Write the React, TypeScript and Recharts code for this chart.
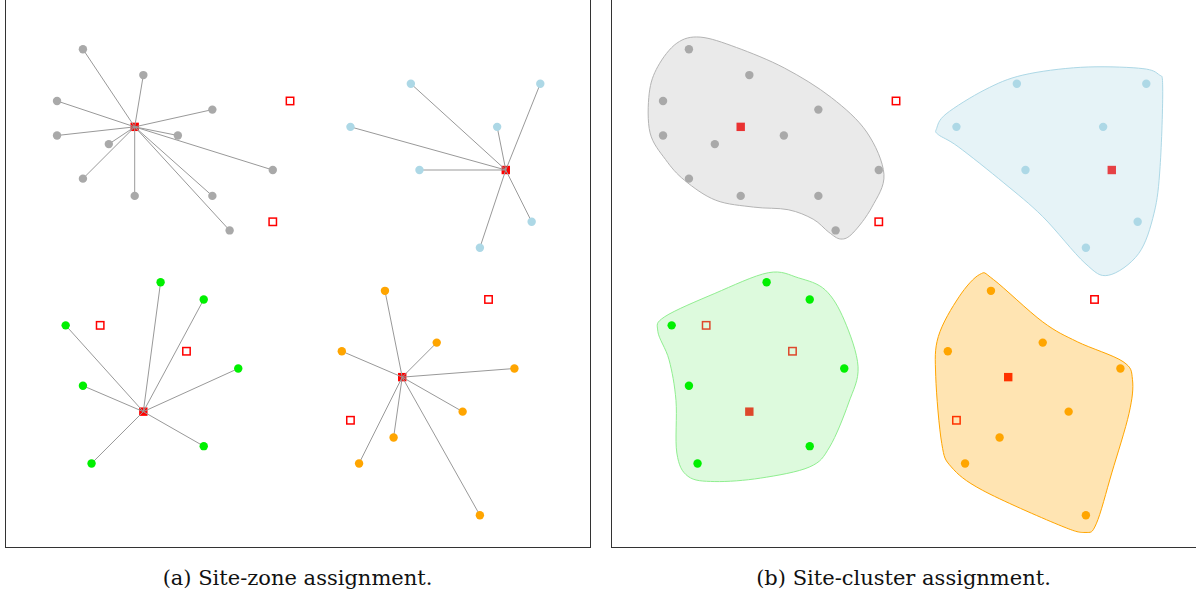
import React from "react";
import { ScatterChart, Scatter, XAxis, YAxis } from "recharts";

type Pt = { x: number; y: number };

// grid coordinates shared by both panels (x to the right, y downward)
const grayCustomers: Pt[] = [
  { x: 9, y: 5 }, { x: 16, y: 8 }, { x: 6, y: 11 }, { x: 24, y: 12 },
  { x: 6, y: 15 }, { x: 20, y: 15 }, { x: 12, y: 16 }, { x: 31, y: 19 },
  { x: 9, y: 20 }, { x: 15, y: 22 }, { x: 24, y: 22 }, { x: 26, y: 26 },
];
const blueCustomers: Pt[] = [
  { x: 47, y: 9 }, { x: 62, y: 9 }, { x: 40, y: 14 }, { x: 57, y: 14 },
  { x: 48, y: 19 }, { x: 61, y: 25 }, { x: 55, y: 28 },
];
const greenCustomers: Pt[] = [
  { x: 18, y: 32 }, { x: 23, y: 34 }, { x: 7, y: 37 }, { x: 27, y: 42 },
  { x: 9, y: 44 }, { x: 23, y: 51 }, { x: 10, y: 53 },
];
const orangeCustomers: Pt[] = [
  { x: 44, y: 33 }, { x: 50, y: 39 }, { x: 39, y: 40 }, { x: 59, y: 42 },
  { x: 53, y: 47 }, { x: 45, y: 50 }, { x: 41, y: 53 }, { x: 55, y: 59 },
];

const grayHub: Pt = { x: 15, y: 14 };
const blueHub: Pt = { x: 58, y: 19 };
const greenHub: Pt = { x: 16, y: 47 };
const orangeHub: Pt = { x: 46, y: 43 };

const openSites: Pt[] = [
  { x: 33, y: 11 }, { x: 31, y: 25 }, { x: 11, y: 37 }, { x: 21, y: 40 },
  { x: 56, y: 34 }, { x: 40, y: 48 },
];

// cluster outlines for panel (b)
const grayHull: Pt[] = [
  { x: 10.3, y: 3.6 }, { x: 14.5, y: 4.8 }, { x: 20.1, y: 7.2 }, { x: 25.5, y: 10.6 },
  { x: 29.6, y: 14.6 }, { x: 31.6, y: 19.5 }, { x: 30.2, y: 23.3 }, { x: 28.0, y: 26.3 },
  { x: 26.6, y: 27.0 }, { x: 25.2, y: 26.2 }, { x: 23.4, y: 24.7 }, { x: 20.5, y: 23.6 },
  { x: 16.5, y: 23.3 }, { x: 12.1, y: 22.5 }, { x: 8.5, y: 20.2 }, { x: 6.3, y: 17.8 },
  { x: 4.5, y: 14.7 }, { x: 4.4, y: 10.1 }, { x: 5.4, y: 7.0 }, { x: 7.6, y: 4.3 },
];
const blueHull: Pt[] = [
  { x: 37.7, y: 14.2 }, { x: 38.8, y: 12.5 }, { x: 43.3, y: 9.7 }, { x: 47.7, y: 8.0 },
  { x: 54.4, y: 7.1 }, { x: 61.1, y: 7.2 }, { x: 63.4, y: 7.9 }, { x: 63.9, y: 9.5 },
  { x: 63.6, y: 18.6 }, { x: 62.9, y: 24.0 }, { x: 61.1, y: 28.7 }, { x: 57.6, y: 31.2 },
  { x: 54.9, y: 29.8 }, { x: 50.0, y: 24.4 }, { x: 45.5, y: 20.5 }, { x: 40.2, y: 16.3 },
  { x: 37.9, y: 14.9 },
];
const greenHull: Pt[] = [
  { x: 18.2, y: 30.9 }, { x: 21.7, y: 31.5 }, { x: 24.8, y: 32.9 }, { x: 27.0, y: 36.4 },
  { x: 28.6, y: 41.8 }, { x: 27.5, y: 46.0 }, { x: 25.3, y: 51.1 }, { x: 23.0, y: 53.4 },
  { x: 17.3, y: 54.7 }, { x: 12.0, y: 55.1 }, { x: 8.9, y: 54.5 }, { x: 7.6, y: 51.8 },
  { x: 7.5, y: 45.7 }, { x: 6.7, y: 41.0 }, { x: 5.4, y: 37.7 }, { x: 6.2, y: 36.0 },
  { x: 12.0, y: 33.3 },
];
const orangeHull: Pt[] = [
  { x: 42.7, y: 31.1 }, { x: 44.3, y: 31.7 }, { x: 50.0, y: 36.6 }, { x: 54.0, y: 38.9 },
  { x: 59.3, y: 41.2 }, { x: 60.4, y: 43.3 }, { x: 60.0, y: 47.2 }, { x: 58.0, y: 54.1 },
  { x: 56.2, y: 60.0 }, { x: 54.9, y: 61.0 }, { x: 51.8, y: 60.1 }, { x: 43.0, y: 56.1 },
  { x: 39.4, y: 53.4 }, { x: 38.3, y: 50.7 }, { x: 37.6, y: 42.9 }, { x: 37.9, y: 38.3 },
  { x: 40.3, y: 33.7 },
];

const X_DOMAIN: [number, number] = [-0.03, 67.76];
const Y_DOMAIN: [number, number] = [-0.7, 62.8];

const clusters = [
  { name: "gray", dot: "#a9a9a9", hull: "#b4b4b4", alpha: 0.28, hub: grayHub, customers: grayCustomers, outline: grayHull },
  { name: "blue", dot: "#add8e6", hull: "#add8e6", alpha: 0.3, hub: blueHub, customers: blueCustomers, outline: blueHull },
  { name: "green", dot: "#00f000", hull: "#90ee90", alpha: 0.3, hub: greenHub, customers: greenCustomers, outline: greenHull },
  { name: "orange", dot: "#ffa500", hull: "#ffa500", alpha: 0.3, hub: orangeHub, customers: orangeCustomers, outline: orangeHull },
];

const PANEL_W = 585;
const PANEL_H = 548;

const dotShape = (color: string) => (p: any) => (
  <circle cx={p.cx} cy={p.cy} r={4.2} fill={color} />
);
const hubShape = (p: any) => (
  <rect x={p.cx - 4.2} y={p.cy - 4.2} width={8.4} height={8.4} fill="#ff0000" />
);
const openShape = (p: any) => (
  <rect x={p.cx - 3.7} y={p.cy - 3.7} width={7.4} height={7.4} fill="#ffffff" stroke="#ff0000" strokeWidth={1.5} />
);
const noShape = () => <g />;

// star of segments from the first point to every other one
const spokes = (p: any) => {
  const pts: { x: number; y: number }[] = p.points || [];
  if (pts.length < 2) return <g />;
  const c = pts[0];
  const d = pts.slice(1).map((q) => `M${c.x},${c.y}L${q.x},${q.y}`).join("");
  return <path d={d} stroke="#999999" strokeWidth={1} fill="none" />;
};

// closed Catmull-Rom curve through the outline points
const blob = (color: string, alpha: number) => (p: any) => {
  const pts: { x: number; y: number }[] = p.points || [];
  const n = pts.length;
  if (n < 3) return <g />;
  let d = `M${pts[0].x},${pts[0].y}`;
  for (let i = 0; i < n; i++) {
    const p0 = pts[(i - 1 + n) % n];
    const p1 = pts[i];
    const p2 = pts[(i + 1) % n];
    const p3 = pts[(i + 2) % n];
    const c1x = p1.x + (p2.x - p0.x) / 6;
    const c1y = p1.y + (p2.y - p0.y) / 6;
    const c2x = p2.x - (p3.x - p1.x) / 6;
    const c2y = p2.y - (p3.y - p1.y) / 6;
    d += `C${c1x},${c1y} ${c2x},${c2y} ${p2.x},${p2.y}`;
  }
  d += "Z";
  return <path d={d} fill={color} fillOpacity={alpha} stroke={color} strokeWidth={1} />;
};

function Panel({ mode }: { mode: "zone" | "cluster" }) {
  const hubs = clusters.map((c) => c.hub);
  return (
    <ScatterChart width={PANEL_W} height={PANEL_H} margin={{ top: 0, right: 0, bottom: 0, left: 0 }}>
      <XAxis type="number" dataKey="x" domain={X_DOMAIN} allowDataOverflow hide />
      <YAxis type="number" dataKey="y" domain={Y_DOMAIN} allowDataOverflow reversed hide />
      {mode === "cluster" && (
        <Scatter data={openSites} shape={openShape} isAnimationActive={false} />
      )}
      <Scatter data={hubs} shape={hubShape} isAnimationActive={false} />
      {mode === "zone" &&
        clusters.map((c) => (
          <Scatter
            key={"spk-" + c.name}
            data={[c.hub, ...c.customers]}
            shape={noShape}
            line={spokes}
            isAnimationActive={false}
          />
        ))}
      {mode === "zone" && (
        <Scatter data={openSites} shape={openShape} isAnimationActive={false} />
      )}
      {mode === "cluster" &&
        clusters.map((c) => (
          <Scatter
            key={"hull-" + c.name}
            data={c.outline}
            shape={noShape}
            line={blob(c.hull, c.alpha)}
            isAnimationActive={false}
          />
        ))}
      {clusters.map((c) => (
        <Scatter
          key={"pts-" + c.name}
          data={c.customers}
          shape={dotShape(c.dot)}
          isAnimationActive={false}
        />
      ))}
    </ScatterChart>
  );
}

const frameStyle = (left: number): React.CSSProperties => ({
  position: "absolute",
  left,
  top: -2,
  width: PANEL_W + 1,
  height: PANEL_H + 2,
  borderLeft: "1.3px solid #333",
  borderRight: "1.3px solid #333",
  borderBottom: "1.3px solid #333",
  boxSizing: "border-box",
  pointerEvents: "none",
});

const captionStyle = (left: number): React.CSSProperties => ({
  position: "absolute",
  left,
  top: 565,
  width: PANEL_W,
  textAlign: "center",
  fontFamily: "'DejaVu Serif', serif",
  fontSize: 21,
  lineHeight: "26px",
  color: "#111",
});

export default function App() {
  return (
    <div
      style={{
        position: "absolute",
        left: 0,
        top: 0,
        width: 1196,
        height: 598,
        overflow: "hidden",
        background: "#ffffff",
      }}
    >
      <div style={{ position: "absolute", left: 5, top: 0 }}>
        <Panel mode="zone" />
      </div>
      <div style={{ position: "absolute", left: 611, top: 0 }}>
        <Panel mode="cluster" />
      </div>
      <div style={frameStyle(5)} />
      <div style={frameStyle(611)} />
      <div style={captionStyle(5)}>(a) Site-zone assignment.</div>
      <div style={captionStyle(611)}>(b) Site-cluster assignment.</div>
    </div>
  );
}
